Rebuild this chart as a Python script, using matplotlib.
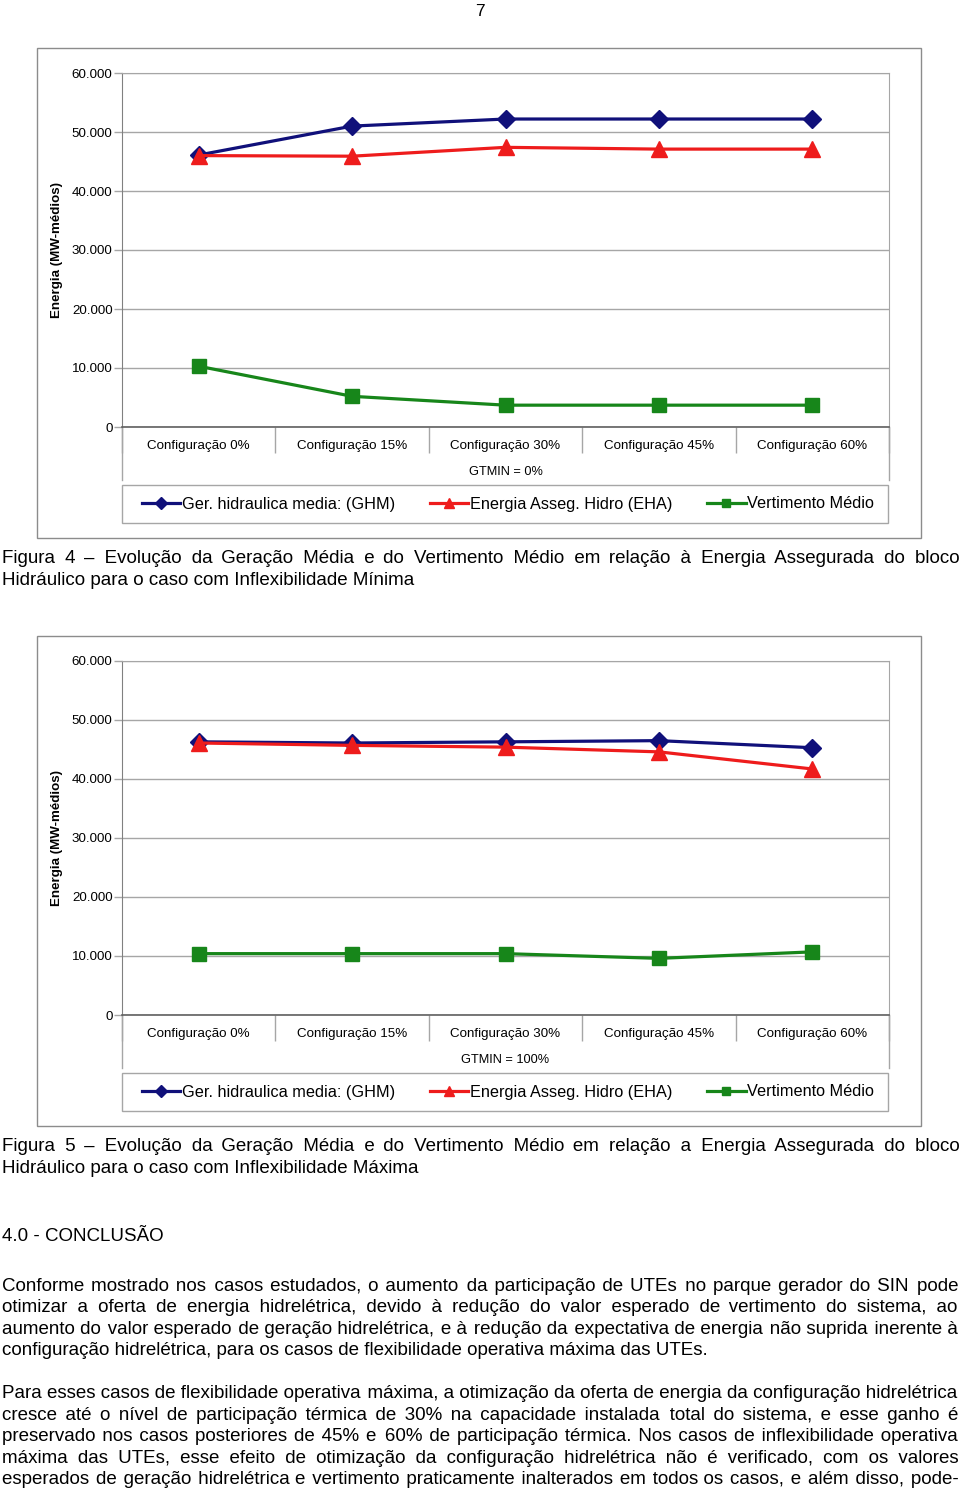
import matplotlib
matplotlib.use('Agg')
import matplotlib.pyplot as plt
from matplotlib.ticker import FuncFormatter, FixedLocator
from matplotlib.lines import Line2D
from matplotlib.patches import Rectangle

# ---------------- data ----------------
categories = ['Configuração 0%', 'Configuração 15%', 'Configuração 30%',
              'Configuração 45%', 'Configuração 60%']
series_names = ['Ger. hidraulica media: (GHM)', 'Energia Asseg. Hidro (EHA)',
                'Vertimento Médio']
yticks = [0, 10000, 20000, 30000, 40000, 50000, 60000]

fig4_ghm = [46100, 51000, 52200, 52200, 52200]
fig4_eha = [46000, 45900, 47400, 47100, 47100]
fig4_vert = [10300, 5200, 3700, 3700, 3700]
fig4_xlabel = 'GTMIN = 0%'

fig5_ghm = [46300, 46100, 46300, 46500, 45300]
fig5_eha = [46100, 45700, 45400, 44600, 41700]
fig5_vert = [10400, 10400, 10400, 9600, 10700]
fig5_xlabel = 'GTMIN = 100%'

ylabel = 'Energia (MW-médios)'
page_number = '7'
caption4 = ['Figura 4 – Evolução da Geração Média e do Vertimento Médio em relação à Energia Assegurada do bloco',
            'Hidráulico para o caso com Inflexibilidade Mínima']
caption5 = ['Figura 5 – Evolução da Geração Média e do Vertimento Médio em relação a Energia Assegurada do bloco',
            'Hidráulico para o caso com Inflexibilidade Máxima']
heading = '4.0 - CONCLUSÃO'
para1 = ['Conforme mostrado nos casos estudados, o aumento da participação de UTEs no parque gerador do SIN pode',
         'otimizar a oferta de energia hidrelétrica, devido à redução do valor esperado de vertimento do sistema, ao',
         'aumento do valor esperado de geração hidrelétrica, e à redução da expectativa de energia não suprida inerente à',
         'configuração hidrelétrica, para os casos de flexibilidade operativa máxima das UTEs.']
para2 = ['Para esses casos de flexibilidade operativa máxima, a otimização da oferta de energia da configuração hidrelétrica',
         'cresce até o nível de participação térmica de 30% na capacidade instalada total do sistema, e esse ganho é',
         'preservado nos casos posteriores de 45% e 60% de participação térmica. Nos casos de inflexibilidade operativa',
         'máxima das UTEs, esse efeito de otimização da configuração hidrelétrica não é verificado, com os valores',
         'esperados de geração hidrelétrica e vertimento praticamente inalterados em todos os casos, e além disso, pode-']

# ---------------- style ----------------
W, H = 960, 1492
FONT = 'Liberation Sans'
plt.rcParams['font.family'] = [FONT, 'DejaVu Sans']
COLORS = ['#10107a', '#ee1c1c', '#17861a']
MARKERS = ['D', '^', 's']
MSIZES = [9.5, 11, 9.5]
LEG_MSIZES = [6, 7.5, 6]
GRID = '#a6a6a6'

fig = plt.figure(figsize=(W / 100, H / 100), dpi=100)
fig.patch.set_facecolor('white')


def fx(px):
    return px / W


def fy(py):
    return 1 - py / H


def fmt(v, _):
    return '{:,.0f}'.format(v).replace(',', '.')


def draw_chart(top, ghm, eha, vert, xlabel):
    # outer frame
    fig.add_artist(Rectangle((fx(37), fy(top + 490)), fx(921) - fx(37), 490 / H,
                             transform=fig.transFigure, fill=False,
                             edgecolor='#8c8c8c', lw=1.0))
    ax = fig.add_axes([fx(122), fy(top + 379), (889 - 122) / W, 354 / H])
    x = list(range(len(categories)))
    for vals, c, m, ms in zip([ghm, eha, vert], COLORS, MARKERS, MSIZES):
        ax.plot(x, vals, color=c, lw=2.3, marker=m, markersize=ms,
                markeredgecolor=c, markerfacecolor=c, clip_on=False, zorder=3)
    ax.set_xlim(-0.5, len(categories) - 0.5)
    ax.set_ylim(0, 60000)
    ax.set_yticks(yticks)
    ax.yaxis.set_major_formatter(FuncFormatter(fmt))
    ax.grid(axis='y', color=GRID, lw=1.0)
    ax.set_axisbelow(True)
    ax.set_xticks(x)
    ax.set_xticklabels(categories, fontsize=9.6)
    ax.xaxis.set_minor_locator(FixedLocator([i - 0.5 for i in range(len(categories) + 1)]))
    ax.tick_params(axis='x', which='major', length=0, pad=9, colors='black')
    ax.tick_params(axis='x', which='minor', length=19, width=1.0, color=GRID, direction='out')
    ax.tick_params(axis='y', length=5.8, width=1.0, pad=1.0, labelsize=9.6, color=GRID)
    for s in ['top', 'right']:
        ax.spines[s].set_color(GRID)
    ax.spines['left'].set_color('#808080')
    ax.spines['bottom'].set_color('#606060')
    ax.spines['bottom'].set_linewidth(1.2)
    # category area side lines
    for xa in (0, 1):
        ax.plot([xa, xa], [0, -53 / 354], transform=ax.transAxes, color=GRID,
                lw=1.0, clip_on=False)
    ax.set_xlabel(xlabel, fontsize=9.2, labelpad=6)
    ax.set_ylabel(ylabel, fontsize=9.6, fontweight='bold')
    ax.yaxis.set_label_coords((63 - 122) / 767, 0.5)
    # legend box
    fig.add_artist(Rectangle((fx(122), fy(top + 475)), (888 - 122) / W, 38 / H,
                             transform=fig.transFigure, fill=False,
                             edgecolor=GRID, lw=1.0))
    handles = [Line2D([], [], color=c, lw=2.3, marker=m, markersize=ms,
                      markerfacecolor=c, markeredgecolor=c)
               for c, m, ms in zip(COLORS, MARKERS, LEG_MSIZES)]
    fig.legend(handles, series_names, ncol=3, loc='center',
               bbox_to_anchor=(fx(508), fy(top + 456)), frameon=False,
               fontsize=11.7, handlelength=2.35, handletextpad=0.12,
               columnspacing=2.15, borderaxespad=0)
    return ax


draw_chart(48, fig4_ghm, fig4_eha, fig4_vert, fig4_xlabel)
draw_chart(636, fig5_ghm, fig5_eha, fig5_vert, fig5_xlabel)

# ---------------- text ----------------
FS = 13.5
renderer = fig.canvas.get_renderer()
HAIR = '\u200a'


def width_of(s, fs):
    t = fig.text(0, 0, s, fontsize=fs)
    w = t.get_window_extent(renderer=renderer).width
    t.remove()
    return w


def text_line(s, base_px, justify=True, x0=2, x1=958, fs=FS):
    if justify:
        words = s.split(' ')
        n = len(words) - 1
        w_line = width_of(s, fs)
        extra = (x1 - x0) - w_line
        hair_w = width_of('a' + HAIR * 10 + 'a', fs) - width_of('aa', fs)
        hair_w = hair_w / 10.0
        if extra > 0 and hair_w > 0:
            out = words[0]
            prev = 0
            for i in range(1, n + 1):
                cum = int(round(i * extra / n / hair_w))
                out += ' ' + HAIR * (cum - prev) + words[i]
                prev = cum
            s = out
    fig.text(fx(x0), fy(base_px), s, fontsize=fs, va='baseline', ha='left')


fig.text(0.5, fy(16), page_number, fontsize=12.5, ha='center', va='baseline')
text_line(caption4[0], 563)
text_line(caption4[1], 585, justify=False)
text_line(caption5[0], 1151)
text_line(caption5[1], 1173, justify=False)
text_line(heading, 1241, justify=False)
for i, (s, y) in enumerate(zip(para1, [1291, 1312, 1334, 1355])):
    text_line(s, y, justify=(i < len(para1) - 1))
for s, y in zip(para2, [1398, 1420, 1441, 1463, 1484]):
    text_line(s, y, justify=True)

fig.savefig('out.png', dpi=100)
